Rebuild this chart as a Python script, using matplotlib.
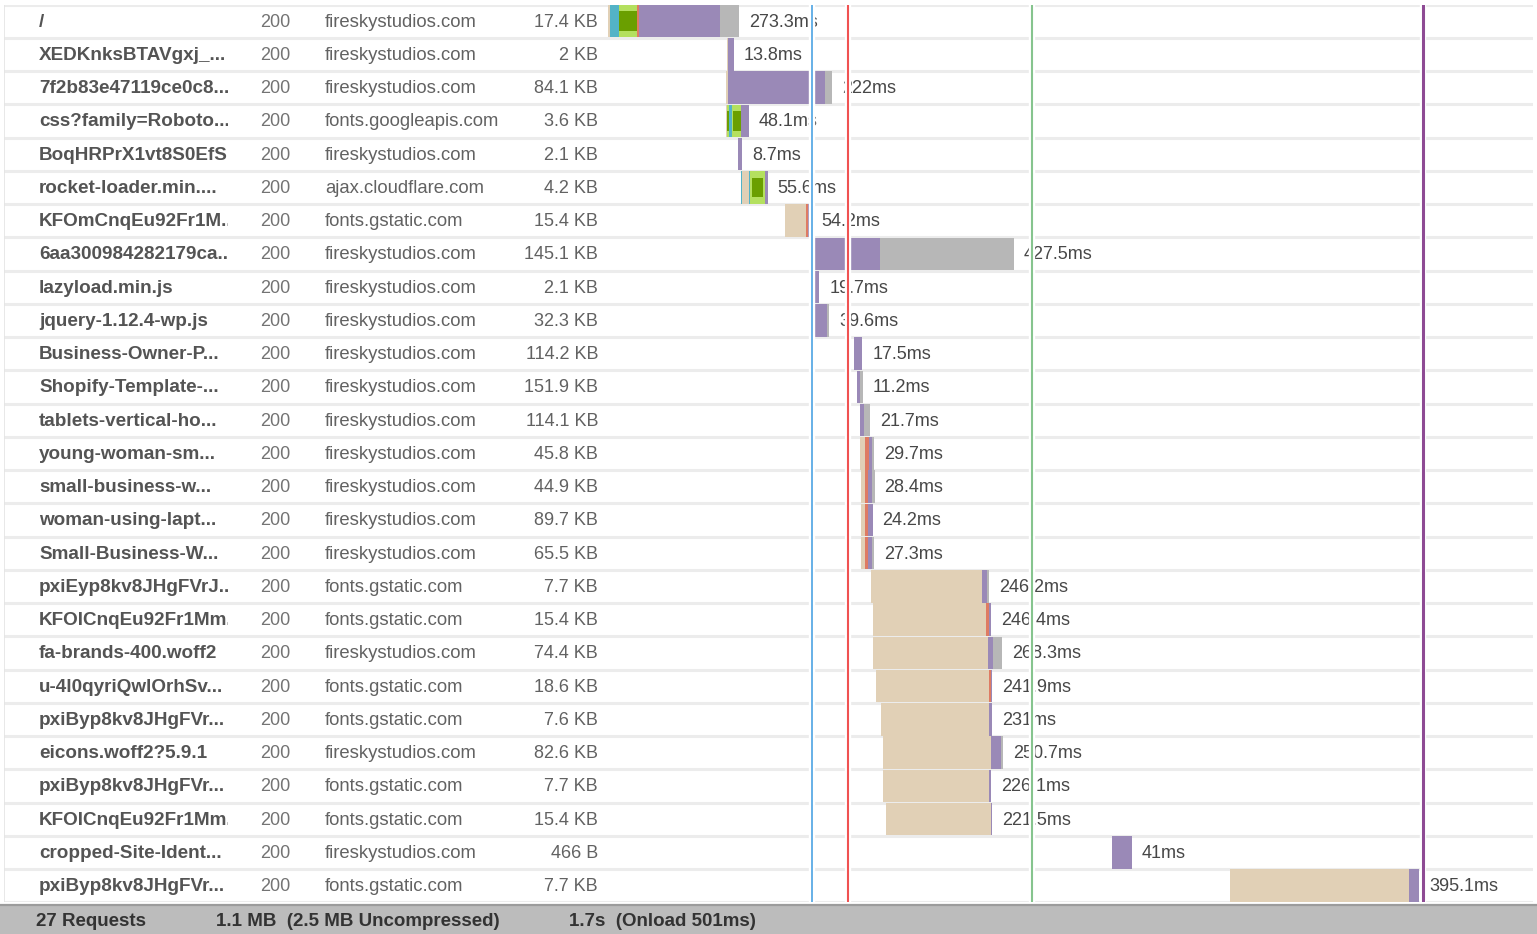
import matplotlib.pyplot as plt
from matplotlib.patches import Rectangle

plt.rcParams["font.family"] = ["Liberation Sans", "DejaVu Sans"]

# request table
names = [
    "/", "XEDKnksBTAVgxj_...", "7f2b83e47119ce0c8...", "css?family=Roboto...",
    "BoqHRPrX1vt8S0EfS...", "rocket-loader.min....", "KFOmCnqEu92Fr1M...",
    "6aa300984282179ca...", "lazyload.min.js", "jquery-1.12.4-wp.js",
    "Business-Owner-P...", "Shopify-Template-...", "tablets-vertical-ho...",
    "young-woman-sm...", "small-business-w...", "woman-using-lapt...",
    "Small-Business-W...", "pxiEyp8kv8JHgFVrJ...", "KFOICnqEu92Fr1Mm...",
    "fa-brands-400.woff2", "u-4l0qyriQwlOrhSv...", "pxiByp8kv8JHgFVr...",
    "eicons.woff2?5.9.1", "pxiByp8kv8JHgFVr...", "KFOICnqEu92Fr1Mm...",
    "cropped-Site-Ident...", "pxiByp8kv8JHgFVr...",
]
status = ["200"] * 27
domains = [
    "fireskystudios.com", "fireskystudios.com", "fireskystudios.com",
    "fonts.googleapis.com", "fireskystudios.com", "ajax.cloudflare.com",
    "fonts.gstatic.com", "fireskystudios.com", "fireskystudios.com",
    "fireskystudios.com", "fireskystudios.com", "fireskystudios.com",
    "fireskystudios.com", "fireskystudios.com", "fireskystudios.com",
    "fireskystudios.com", "fireskystudios.com", "fonts.gstatic.com",
    "fonts.gstatic.com", "fireskystudios.com", "fonts.gstatic.com",
    "fonts.gstatic.com", "fireskystudios.com", "fonts.gstatic.com",
    "fonts.gstatic.com", "fireskystudios.com", "fonts.gstatic.com",
]
sizes = [
    "17.4 KB", "2 KB", "84.1 KB", "3.6 KB", "2.1 KB", "4.2 KB", "15.4 KB",
    "145.1 KB", "2.1 KB", "32.3 KB", "114.2 KB", "151.9 KB", "114.1 KB",
    "45.8 KB", "44.9 KB", "89.7 KB", "65.5 KB", "7.7 KB", "15.4 KB", "74.4 KB",
    "18.6 KB", "7.6 KB", "82.6 KB", "7.7 KB", "15.4 KB", "466 B", "7.7 KB",
]

# waterfall timings (ms)
starts = [
    0, 248.2, 246.1, 246.1, 271.2, 277.4, 369.2, 419.3, 421.4, 421.4,
    513.1, 520.0, 525.7, 525.7, 527.7, 527.7, 527.7, 548.6, 552.8, 552.8,
    559.0, 569.5, 573.7, 573.7, 580.0, 1051.3, 1297.5,
]
segments = [
    [("blocked", 3.5), ("dns", 19.5), ("connect", 37), ("send", 5), ("wait", 169), ("receive", 39.3)],
    [("blocked", 2), ("wait", 11.8)],
    [("blocked", 4.5), ("wait", 202), ("receive", 15.5)],
    [("blocked", 2.1), ("connect", 4.8), ("dns", 5), ("connect", 18.6), ("wait", 17.6)],
    [("wait", 8.7)],
    [("dns", 2), ("blocked", 14.6), ("dns", 2), ("connect", 31.4), ("wait", 5.6)],
    [("blocked", 44), ("send", 5), ("wait", 5.2)],
    [("blocked", 2), ("wait", 147), ("receive", 278.5)],
    [("wait", 19.7)],
    [("wait", 35), ("receive", 4.6)],
    [("wait", 17.5)],
    [("wait", 5), ("receive", 6.2)],
    [("wait", 8.5), ("receive", 13.2)],
    [("blocked", 10.4), ("send", 8.3), ("wait", 6.3), ("receive", 4.7)],
    [("blocked", 8), ("send", 6), ("wait", 8.4), ("receive", 6)],
    [("blocked", 8.3), ("send", 6.2), ("wait", 9.7)],
    [("blocked", 8.3), ("send", 6.2), ("wait", 8.3), ("receive", 4.5)],
    [("blocked", 232.2), ("wait", 9.8), ("receive", 4.2)],
    [("blocked", 235.8), ("send", 5.6), ("wait", 5)],
    [("blocked", 239.9), ("wait", 10.4), ("receive", 18)],
    [("blocked", 236), ("send", 3.5), ("wait", 2.4)],
    [("blocked", 225), ("wait", 6)],
    [("blocked", 225), ("wait", 21.5), ("receive", 4.2)],
    [("blocked", 222), ("wait", 4.1)],
    [("blocked", 219.5), ("wait", 2)],
    [("wait", 41)],
    [("blocked", 373.4), ("wait", 21.7)],
]
# ssl handshakes (absolute start, duration)
ssl = {0: [(23, 37)], 3: [(248.6, 3.0), (261.2, 15.4)], 5: [(300.4, 23)]}
durations = [
    "273.3ms", "13.8ms", "222ms", "48.1ms", "8.7ms", "55.6ms", "54.2ms",
    "427.5ms", "19.7ms", "39.6ms", "17.5ms", "11.2ms", "21.7ms", "29.7ms",
    "28.4ms", "24.2ms", "27.3ms", "246.2ms", "246.4ms", "268.3ms", "241.9ms",
    "231ms", "250.7ms", "226.1ms", "221.5ms", "41ms", "395.1ms",
]
events_ms = [425, 501, 884, 1700]
event_colors = ["#3d9be0", "#f05252", "#86c48e", "#8e4b94"]
event_widths = [1.1, 1.5, 1.5, 2.2]

phase_colors = {
    "blocked": "#e1d0b6",
    "dns": "#53b3c7",
    "connect": "#b4e05f",
    "send": "#de7b63",
    "wait": "#9a89b7",
    "receive": "#b7b7b7",
}

W, H = 1537, 934
n = len(names)
row_top, row_h = 4.5, 33.25
px_per_ms = 0.4794

fig = plt.figure(figsize=(W / 100, H / 100), dpi=100)
bottom = (H - (row_top + n * row_h)) / H
height = n * row_h / H
ax_tab = fig.add_axes([4 / W, bottom, 604 / W, height])
ax = fig.add_axes([608 / W, bottom, 925 / W, height])

for a in (ax_tab, ax):
    a.set_ylim(n, 0)
    a.set_axis_off()
    for b in range(n + 1):
        a.axhline(b, color="#ececec", lw=2.2, zorder=1)
ax_tab.set_xlim(0, 604)
ax.set_xlim(0, 925 / px_per_ms)
ax_tab.axvline(0, color="#e4e4e4", lw=1.2, zorder=1)

# table columns
clip = Rectangle((0, 0), 224, n, transform=ax_tab.transData)
fs = 13
ty = 0.53  # text centre inside a row
for i in range(n):
    y = i + ty
    t = ax_tab.text(35, y, names[i], fontsize=13.6, fontweight="bold",
                    color="#545454", va="center", ha="left", clip_on=True)
    t.set_clip_path(clip)
    ax_tab.text(256, y, status[i], fontsize=fs, color="#737373", va="center")
    ax_tab.text(321, y, domains[i], fontsize=13.3, color="#626262", va="center")
    ax_tab.text(594, y, sizes[i], fontsize=fs, color="#626262", va="center",
                ha="right")

# waterfall bars
for i in range(n):
    y = i + 0.5
    left = starts[i]
    for phase, dur in segments[i]:
        ax.barh(y, dur, left=left, height=0.97, color=phase_colors[phase],
                linewidth=0, zorder=2)
        left += dur
    for s0, sd in ssl.get(i, []):
        ax.barh(y, sd, left=s0, height=0.58, color="#6a9f00", linewidth=0,
                zorder=3)
    ax.annotate(durations[i], (left, i + ty), xytext=(10, 0),
                textcoords="offset pixels", fontsize=fs, color="#474747",
                va="center", ha="left", zorder=4)

# page events with white gap
for x, c, w in zip(events_ms, event_colors, event_widths):
    ax.axvline(x, color="white", lw=4.6, zorder=5)
    ax.axvline(x, color=c, lw=w, zorder=6)

# footer bar
ax_foot = fig.add_axes([0, 0, 1, 29 / H])
ax_foot.set_facecolor("#bcbcbc")
ax_foot.set_xticks([])
ax_foot.set_yticks([])
for sp in ("left", "right", "bottom"):
    ax_foot.spines[sp].set_visible(False)
ax_foot.spines["top"].set_color("#9c9c9c")
ax_foot.spines["top"].set_linewidth(1.6)

footer = ["27 Requests", "1.1 MB  (2.5 MB Uncompressed)", "1.7s  (Onload 501ms)"]
footer_x = [36, 216, 569]
for txt, x in zip(footer, footer_x):
    fig.text(x / W, (H - 922) / H, txt, fontsize=13.5, fontweight="bold",
             color="#333333", va="center", ha="left")

fig.savefig("out.png", dpi=100)
plt.close(fig)
